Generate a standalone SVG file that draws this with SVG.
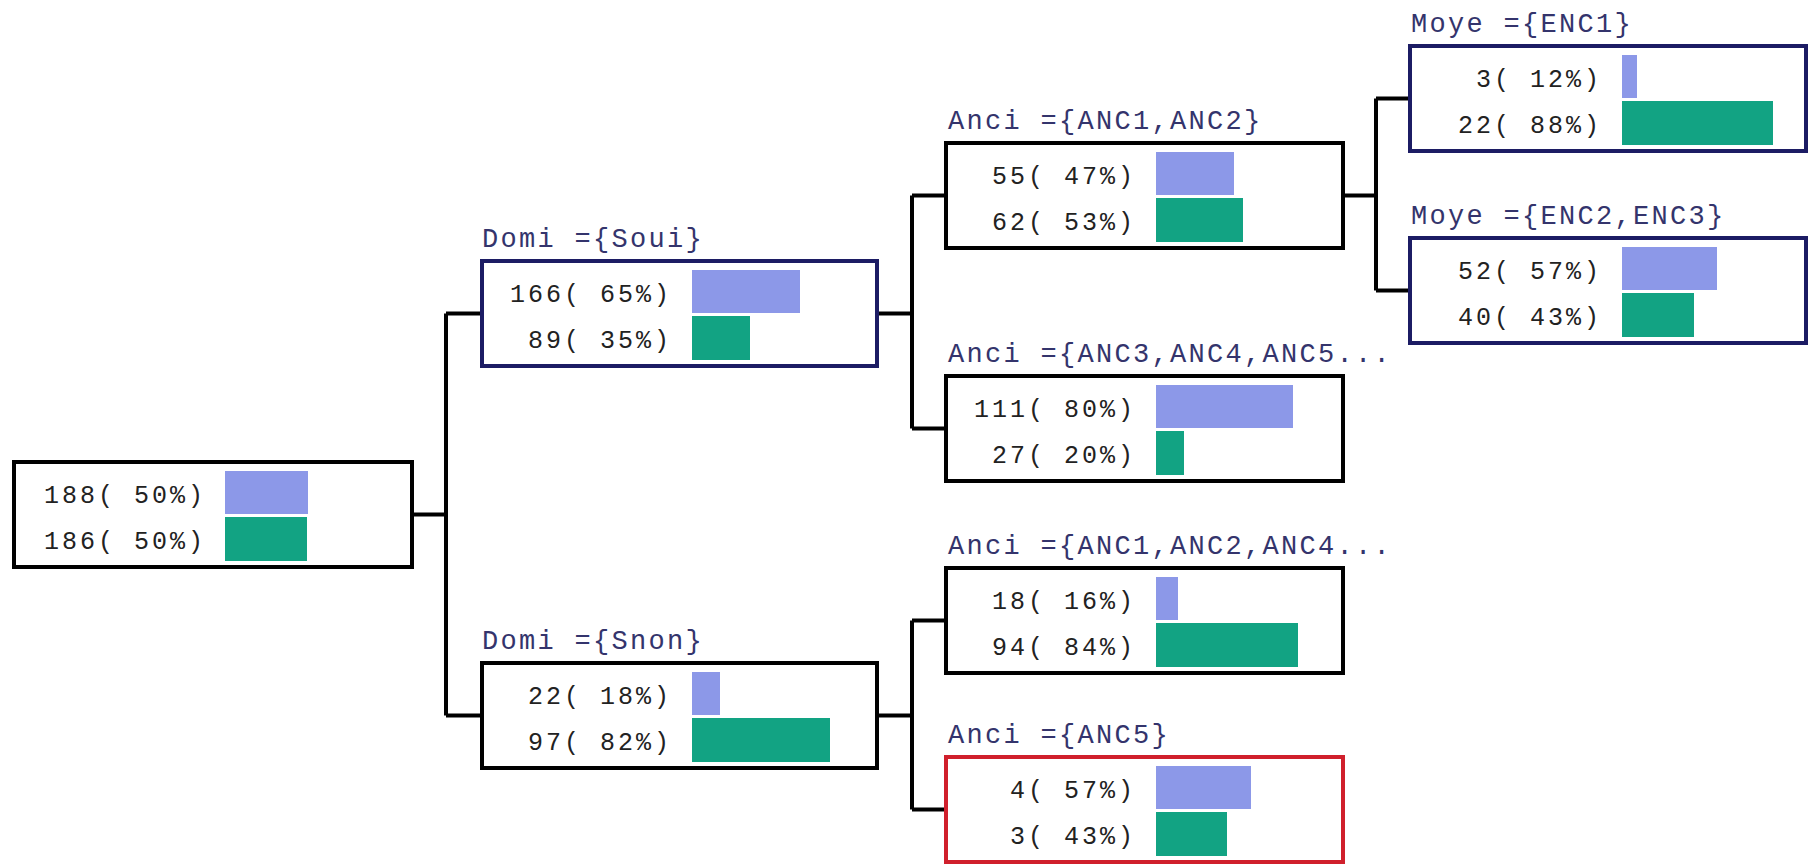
<svg xmlns="http://www.w3.org/2000/svg" width="1808" height="864" viewBox="0 0 1808 864">
<style>
.box{fill:#fff;stroke:#000;stroke-width:4}
.navy{stroke:#1c1c64}
.red{stroke:#d0202c}
.lbl{font-family:"Liberation Mono",monospace;font-size:27px;letter-spacing:2.3px;fill:#34346c}
.num{font-family:"Liberation Mono",monospace;font-size:25px;letter-spacing:3px;fill:#222;text-anchor:end}
.b{fill:#8c98e8}
.g{fill:#12a383}
.con{fill:none;stroke:#000;stroke-width:4}
</style>
<rect width="1808" height="864" fill="#fff"/>
<g id="connectors">
<path class="con" d="M412 514.5H446M446 313.5V715.5M446 313.5H482M446 715.5H482"/>
<path class="con" d="M877 313.5H912M912 195.5V428.5M912 195.5H946M912 428.5H946"/>
<path class="con" d="M877 715.5H912M912 620.5V809.5M912 620.5H946M912 809.5H946"/>
<path class="con" d="M1343 195.5H1376M1376 98.5V290.5M1376 98.5H1410M1376 290.5H1410"/>
</g>
<g id="root">
<rect class="box" x="14" y="462" width="398" height="105"/>
<rect class="b" x="225" y="471" width="83" height="43"/>
<rect class="g" x="225" y="517" width="82" height="44"/>
<text class="num" x="206" y="503">188( 50%)</text>
<text class="num" x="206" y="549">186( 50%)</text>
</g>
<g id="domi-soui">
<text class="lbl" x="482" y="247">Domi ={Soui}</text>
<rect class="box navy" x="482" y="261" width="395" height="105"/>
<rect class="b" x="692" y="270" width="108" height="43"/>
<rect class="g" x="692" y="316" width="58" height="44"/>
<text class="num" x="672" y="302">166( 65%)</text>
<text class="num" x="672" y="348">89( 35%)</text>
</g>
<g id="domi-snon">
<text class="lbl" x="482" y="649">Domi ={Snon}</text>
<rect class="box" x="482" y="663" width="395" height="105"/>
<rect class="b" x="692" y="672" width="28" height="43"/>
<rect class="g" x="692" y="718" width="138" height="44"/>
<text class="num" x="672" y="704">22( 18%)</text>
<text class="num" x="672" y="750">97( 82%)</text>
</g>
<g id="anci-1">
<text class="lbl" x="948" y="129">Anci ={ANC1,ANC2}</text>
<rect class="box" x="946" y="143" width="397" height="105"/>
<rect class="b" x="1156" y="152" width="78" height="43"/>
<rect class="g" x="1156" y="198" width="87" height="44"/>
<text class="num" x="1136" y="184">55( 47%)</text>
<text class="num" x="1136" y="230">62( 53%)</text>
</g>
<g id="anci-3">
<text class="lbl" x="948" y="362">Anci ={ANC3,ANC4,ANC5...</text>
<rect class="box" x="946" y="376" width="397" height="105"/>
<rect class="b" x="1156" y="385" width="137" height="43"/>
<rect class="g" x="1156" y="431" width="28" height="44"/>
<text class="num" x="1136" y="417">111( 80%)</text>
<text class="num" x="1136" y="463">27( 20%)</text>
</g>
<g id="anci-4">
<text class="lbl" x="948" y="554">Anci ={ANC1,ANC2,ANC4...</text>
<rect class="box" x="946" y="568" width="397" height="105"/>
<rect class="b" x="1156" y="577" width="22" height="43"/>
<rect class="g" x="1156" y="623" width="142" height="44"/>
<text class="num" x="1136" y="609">18( 16%)</text>
<text class="num" x="1136" y="655">94( 84%)</text>
</g>
<g id="anci-5">
<text class="lbl" x="948" y="743">Anci ={ANC5}</text>
<rect class="box red" x="946" y="757" width="397" height="105"/>
<rect class="b" x="1156" y="766" width="95" height="43"/>
<rect class="g" x="1156" y="812" width="71" height="44"/>
<text class="num" x="1136" y="798">4( 57%)</text>
<text class="num" x="1136" y="844">3( 43%)</text>
</g>
<g id="moye-1">
<text class="lbl" x="1411" y="32">Moye ={ENC1}</text>
<rect class="box navy" x="1410" y="46" width="396" height="105"/>
<rect class="b" x="1622" y="55" width="15" height="43"/>
<rect class="g" x="1622" y="101" width="151" height="44"/>
<text class="num" x="1602" y="87">3( 12%)</text>
<text class="num" x="1602" y="133">22( 88%)</text>
</g>
<g id="moye-2">
<text class="lbl" x="1411" y="224">Moye ={ENC2,ENC3}</text>
<rect class="box navy" x="1410" y="238" width="396" height="105"/>
<rect class="b" x="1622" y="247" width="95" height="43"/>
<rect class="g" x="1622" y="293" width="72" height="44"/>
<text class="num" x="1602" y="279">52( 57%)</text>
<text class="num" x="1602" y="325">40( 43%)</text>
</g>
</svg>
